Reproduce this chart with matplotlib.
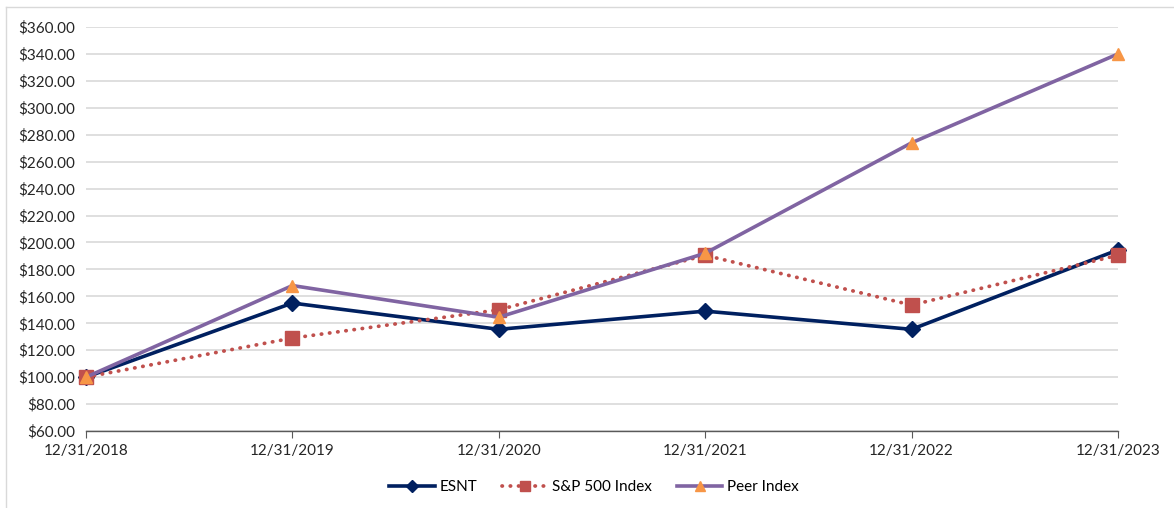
import matplotlib
matplotlib.use("Agg")
import matplotlib.pyplot as plt
from matplotlib.lines import Line2D

dates = ["12/31/2018", "12/31/2019", "12/31/2020", "12/31/2021", "12/31/2022", "12/31/2023"]
esnt = [100.0, 155.0, 135.5, 149.0, 135.5, 194.5]
sp500 = [100.0, 129.0, 150.0, 190.5, 153.5, 190.5]
peer = [100.0, 168.0, 144.5, 192.0, 274.0, 340.0]
yticks = list(range(60, 361, 20))

plt.rcParams['font.family'] = ['Lato', 'DejaVu Sans']

fig = plt.figure(figsize=(11.74, 5.08), dpi=100)
ax = fig.add_axes([86/1174, 1-431/508, (1118-86)/1174, (431-27)/508])

x = list(range(len(dates)))
ax.plot(x, esnt, color="#002060", lw=2.6, marker="D", ms=8, mfc="#002060", mec="#002060",
        label="ESNT", zorder=3, clip_on=False)
ax.plot(x, sp500, color="#C0504D", lw=2.7, ls=(0, (0.1, 2.1)), dash_capstyle="round", marker="s", ms=9.5,
        mfc="#C0504D", mec="#C0504D", label="S&P 500 Index", zorder=4, clip_on=False)
ax.plot(x, peer, color="#8064A2", lw=2.6, marker="^", ms=9, mfc="#F79646", mec="#F79646",
        label="Peer Index", zorder=5, clip_on=False)

ax.set_xlim(0, 5)
ax.set_ylim(60, 360)
ax.set_yticks(yticks)
ax.set_yticklabels([f"${v:.2f}" for v in yticks], fontsize=11, color="#262626")
ax.set_xticks(x)
ax.set_xticklabels(dates, fontsize=11, color="#262626")
ax.yaxis.grid(True, color="#D9D9D9", lw=1.2)
ax.set_axisbelow(True)
for s in ["top", "right", "left"]:
    ax.spines[s].set_visible(False)
ax.spines["bottom"].set_color("#595959")
ax.spines["bottom"].set_linewidth(1.0)
ax.tick_params(axis="y", length=0, pad=8)
ax.tick_params(axis="x", length=5, color="#595959", pad=4, direction="out")

leg = fig.legend(loc="lower center", bbox_to_anchor=(0.506, 0.0), ncol=3, frameon=False, fontsize=11,
                 handlelength=3.0, columnspacing=1.6, handletextpad=0.3, markerscale=0.75)

# outer border (left and top visible)
fig.add_artist(Line2D([6/1174, 6/1174], [0, 1-7/508], color="#D9D9D9", lw=1, transform=fig.transFigure))
fig.add_artist(Line2D([6/1174, 1], [1-7/508, 1-7/508], color="#D9D9D9", lw=1, transform=fig.transFigure))

fig.savefig("out.png", dpi=100, facecolor="white")
